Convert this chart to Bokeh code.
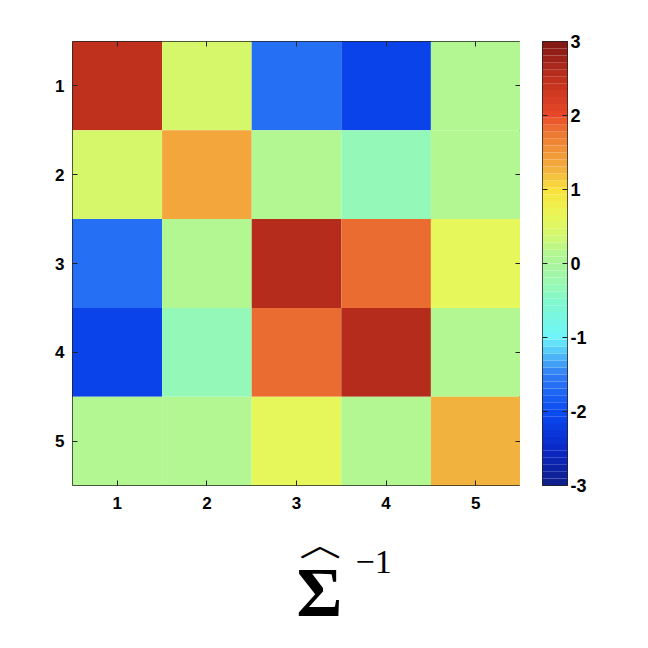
import numpy as np
from bokeh.plotting import figure
from bokeh.layouts import column, row
from bokeh.models import (LinearColorMapper, FixedTicker, ColumnDataSource, LinearAxis)
from bokeh.embed import file_html
from bokeh.resources import INLINE

# ---- data ----
rows = [1, 2, 3, 4, 5]
cols = [1, 2, 3, 4, 5]
row1 = [2.5, 0.4, -1.6, -2.1, 0.15]
row2 = [0.4, 1.4, 0.15, -0.3, 0.15]
row3 = [-1.6, 0.15, 2.6, 1.8, 0.65]
row4 = [-2.1, -0.3, 1.8, 2.6, 0.1]
row5 = [0.15, 0.15, 0.65, 0.1, 1.3]
matrix = [row1, row2, row3, row4, row5]
cbar_ticks = [-3, -2, -1, 0, 1, 2, 3]
cbar_labels = ["-3", "-2", "-1", "0", "1", "2", "3"]

# ---- colormap (pastel jet-like) ----
anchor_v = [-3.0, -2.5, -2.0, -1.5, -1.0, -0.5, -0.3, 0.0, 0.15, 0.4, 0.65, 1.0, 1.3, 1.4, 1.8, 2.0, 2.5, 2.6, 3.0]
anchor_c = [(15, 30, 135), (10, 40, 200), (10, 75, 242), (48, 125, 245), (110, 245, 250),
            (130, 248, 205), (150, 248, 180), (170, 246, 155), (180, 247, 145), (213, 247, 108),
            (232, 247, 88), (250, 225, 60), (240, 172, 62), (243, 162, 58), (236, 114, 50),
            (232, 72, 40), (190, 48, 28), (178, 42, 28), (128, 25, 20)]
N = 64
LOW, HIGH = -3.0, 3.0
step = (HIGH - LOW) / N
vs = LOW + (np.arange(N) + 0.5) * step
ac = np.array(anchor_c, dtype=float)
palette = []
for v in vs:
    r = np.interp(v, anchor_v, ac[:, 0])
    g = np.interp(v, anchor_v, ac[:, 1])
    b = np.interp(v, anchor_v, ac[:, 2])
    palette.append("#%02x%02x%02x" % (int(round(r)), int(round(g)), int(round(b))))

mapper = LinearColorMapper(palette=palette, low=LOW, high=HIGH)

xs, ys, vals = [], [], []
for i, r in enumerate(rows):
    for j, c in enumerate(cols):
        xs.append(c)
        ys.append(r)
        vals.append(matrix[i][j])
src = ColumnDataSource(dict(x=xs, y=ys, v=vals))

FONT = "Liberation Sans"
EDGE = "#222222"


def tick_only_axis(ticks):
    return LinearAxis(ticker=FixedTicker(ticks=ticks), major_tick_in=5, major_tick_out=0,
                      minor_tick_line_color=None, axis_line_color=None,
                      major_tick_line_color=EDGE, major_label_standoff=0,
                      major_label_overrides={t: "" for t in ticks})


# ---- main heatmap ----
p = figure(output_backend="svg", toolbar_location=None,
           x_range=(0.5, 5.5), y_range=(5.5, 0.5),
           frame_width=448, frame_height=444,
           min_border_left=72, min_border_top=41, min_border_bottom=30,
           min_border_right=0)
p.rect(x="x", y="y", width=1, height=1, source=src,
       fill_color={"field": "v", "transform": mapper}, line_color=None)
p.grid.visible = False
p.outline_line_color = EDGE
p.outline_line_width = 1
for ax in (p.xaxis[0], p.yaxis[0]):
    ax.ticker = FixedTicker(ticks=cols)
    ax.minor_tick_line_color = None
    ax.major_tick_in = 5
    ax.major_tick_out = 0
    ax.axis_line_color = None
    ax.major_label_text_font = FONT
    ax.major_label_text_font_style = "bold"
    ax.major_label_text_font_size = "17px"
    ax.major_label_text_color = "black"
    ax.major_tick_line_color = EDGE
p.xaxis.major_label_standoff = 11
p.yaxis.major_label_standoff = 8
p.add_layout(tick_only_axis(cols), "above")
p.add_layout(tick_only_axis(rows), "right")

# ---- colour bar as its own small figure ----
pc = figure(output_backend="svg", toolbar_location=None,
            x_range=(0, 1), y_range=(LOW, HIGH), y_axis_location="right",
            frame_width=25, frame_height=444,
            min_border_left=22, min_border_top=41, min_border_bottom=30,
            min_border_right=30)
pc.quad(left=0, right=1, bottom=list(vs - step / 2), top=list(vs + step / 2),
        fill_color=palette, line_color=None)
pc.grid.visible = False
pc.xaxis.visible = False
pc.outline_line_color = EDGE
yax = pc.yaxis[0]
yax.ticker = FixedTicker(ticks=cbar_ticks)
yax.major_label_overrides = {t: l for t, l in zip(cbar_ticks, cbar_labels)}
yax.minor_tick_line_color = None
yax.major_tick_in = 5
yax.major_tick_out = 0
yax.axis_line_color = None
yax.major_tick_line_color = EDGE
yax.major_label_standoff = 3
yax.major_label_text_font = FONT
yax.major_label_text_font_style = "bold"
yax.major_label_text_font_size = "18px"
yax.major_label_text_color = "black"
pc.add_layout(tick_only_axis(cbar_ticks), "left")

# ---- formula underneath ----
H2 = 125
pt = figure(output_backend="svg", toolbar_location=None,
            x_range=(0, 600), y_range=(0, H2), width=600, height=H2,
            min_border=0)
pt.axis.visible = False
pt.grid.visible = False
pt.outline_line_color = None
pt.text(x=[296], y=[87], text=["Σ"], text_font="DejaVu Serif",
        text_font_style="bold", text_font_size="70px",
        text_baseline="top", text_align="left", text_color="black")
pt.text(x=[321], y=[96], text=["︿"], text_font="Noto Sans CJK JP",
        text_font_size="46px", text_baseline="middle", text_align="center",
        text_color="black")
pt.text(x=[355], y=[90], text=["−1"], text_font="DejaVu Serif",
        text_font_size="34px", text_baseline="top", text_align="left",
        text_color="black")

layout = column(row(p, pc, spacing=0), pt, spacing=0)
open("out.html", "w").write(file_html(layout, INLINE))
